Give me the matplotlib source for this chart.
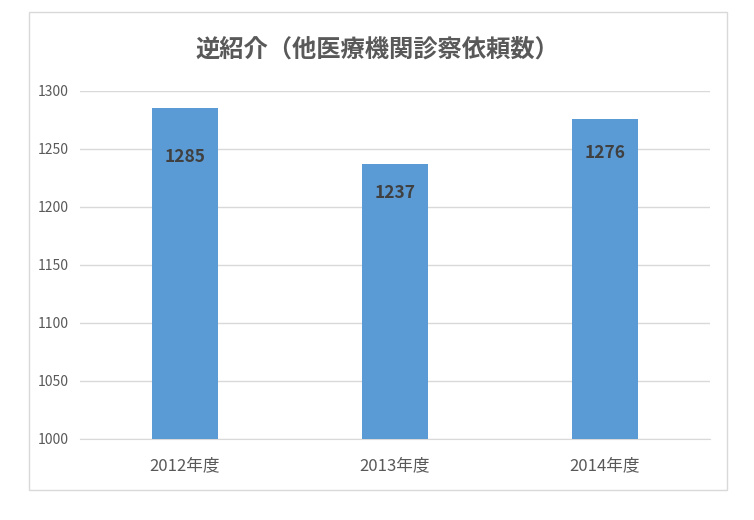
import matplotlib
matplotlib.use('Agg')
import matplotlib.pyplot as plt
from matplotlib.patches import Rectangle

plt.rcParams['font.family'] = ['Noto Sans CJK JP', 'DejaVu Sans']

title = '逆紹介（他医療機関診察依頼数）'
years = ['2012年度', '2013年度', '2014年度']
counts = [1285, 1237, 1276]
y_ticks = [1000, 1050, 1100, 1150, 1200, 1250, 1300]

label_offsets = [-49, -29, -34]  # px below bar top, as in the original

fig = plt.figure(figsize=(7.54, 5.2), dpi=100)
fig.patches.append(Rectangle((29 / 754, 1 - 490 / 520), 698 / 754, 478 / 520,
                             transform=fig.transFigure, fill=False,
                             edgecolor='#d9d9d9', linewidth=1))
ax = fig.add_axes([80 / 754, 81 / 520, 630 / 754, 348 / 520])

x = range(len(years))
ax.bar(x, counts, width=0.314, color='#5b9bd5', zorder=3)
for i, v in enumerate(counts):
    ax.annotate(str(v), (i, v), xytext=(0, label_offsets[i] * 0.72),
                textcoords='offset points', ha='center', va='center',
                fontsize=12.5, fontweight='bold', color='#404040')

ax.set_xlim(-0.5, 2.5)
ax.set_ylim(1000, 1300)
ax.set_yticks(y_ticks)
ax.set_yticklabels([str(t) for t in y_ticks], fontsize=10, color='#595959')
ax.set_xticks(list(x))
ax.set_xticklabels(years, fontsize=12, color='#595959')
ax.grid(axis='y', color='#d9d9d9', linewidth=1, zorder=0)
for s in ['top', 'right', 'left']:
    ax.spines[s].set_visible(False)
ax.spines['bottom'].set_color('#d9d9d9')
ax.tick_params(length=0)
ax.tick_params(axis='y', pad=8)
ax.tick_params(axis='x', pad=13)

fig.text(0.5, 1 - 50 / 520, title, ha='center', va='center',
         fontsize=17.5, fontweight='bold', color='#595959')

fig.savefig('out.png', dpi=100)
